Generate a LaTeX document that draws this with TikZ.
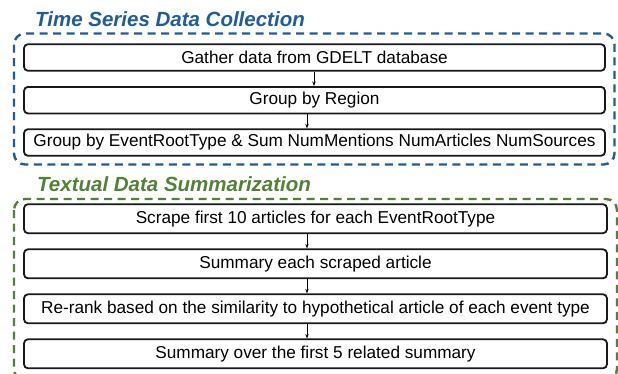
\documentclass[tikz,border=0pt]{standalone}
\usepackage{fontspec}
\setmainfont{Liberation Sans}
\usetikzlibrary{arrows.meta}
\definecolor{tsblue}{HTML}{1F5C99}
\definecolor{tdgreen}{HTML}{538135}
\tikzset{
  stepbox/.style={draw=black!90, line width=1.8pt, rounded corners=4pt, inner sep=0pt,
    font=\fontsize{17.2}{20}\selectfont, text=black},
  bluebox/.style={stepbox, minimum width=581pt, minimum height=26.6pt},
  greenbox/.style={stepbox, minimum width=583pt, minimum height=29pt},
  grp/.style={line width=2.4pt, dash pattern=on 8pt off 5.5pt, rounded corners=11pt},
  grptitle/.style={font=\fontsize{20.5}{24}\selectfont\bfseries\itshape, inner sep=0pt, anchor=base west},
  arr/.style={line width=0.8pt, -{Stealth[length=4.5pt,width=3.5pt]}}
}
\begin{document}
\begin{tikzpicture}[x=1pt,y=-1pt]
\useasboundingbox (0,0) rectangle (618,373);
\clip (0,0) rectangle (618,373);
% group frames
\draw[grp, tsblue] (14,33.5) rectangle (614.5,164.5);
\draw[grp, tdgreen] (14,199) rectangle (617,380);
% titles
\node[grptitle, text=tsblue] (t1) at (35,26.7) {Time Series Data Collection};
\node[grptitle, text=tdgreen] (t2) at (37,191.7) {Textual Data Summarization};
% blue steps
\node[bluebox] (b1) at (314.5,57.5) {Gather data from GDELT database};
\node[bluebox] (b2) at (314.5,100.2) {Group by Region};
\node[bluebox] (b3) at (314.5,142.5) {Group by EventRootType \& Sum NumMentions NumArticles NumSources};
% green steps
\node[greenbox] (g1) at (315.5,218.7) {Scrape first 10 articles for each EventRootType};
\node[greenbox] (g2) at (315.5,263.8) {Summary each scraped article};
\node[greenbox] (g3) at (315.5,308.8) {Re-rank based on the similarity to hypothetical article of each event type};
\node[greenbox] (g4) at (315.5,353.8) {Summary over the first 5 related summary};
% arrow columns
\coordinate (xa) at (314,0);
\coordinate (xb) at (307,0);
\draw[arr] (b1.south -| xa) -- (b2.north -| xa);
\draw[arr] (b2.south -| xb) -- (b3.north -| xb);
\draw[arr] (g1.south -| xb) -- (g2.north -| xb);
\draw[arr] (g2.south -| xb) -- (g3.north -| xb);
\draw[arr] (g3.south -| xb) -- (g4.north -| xb);
\end{tikzpicture}
\end{document}
